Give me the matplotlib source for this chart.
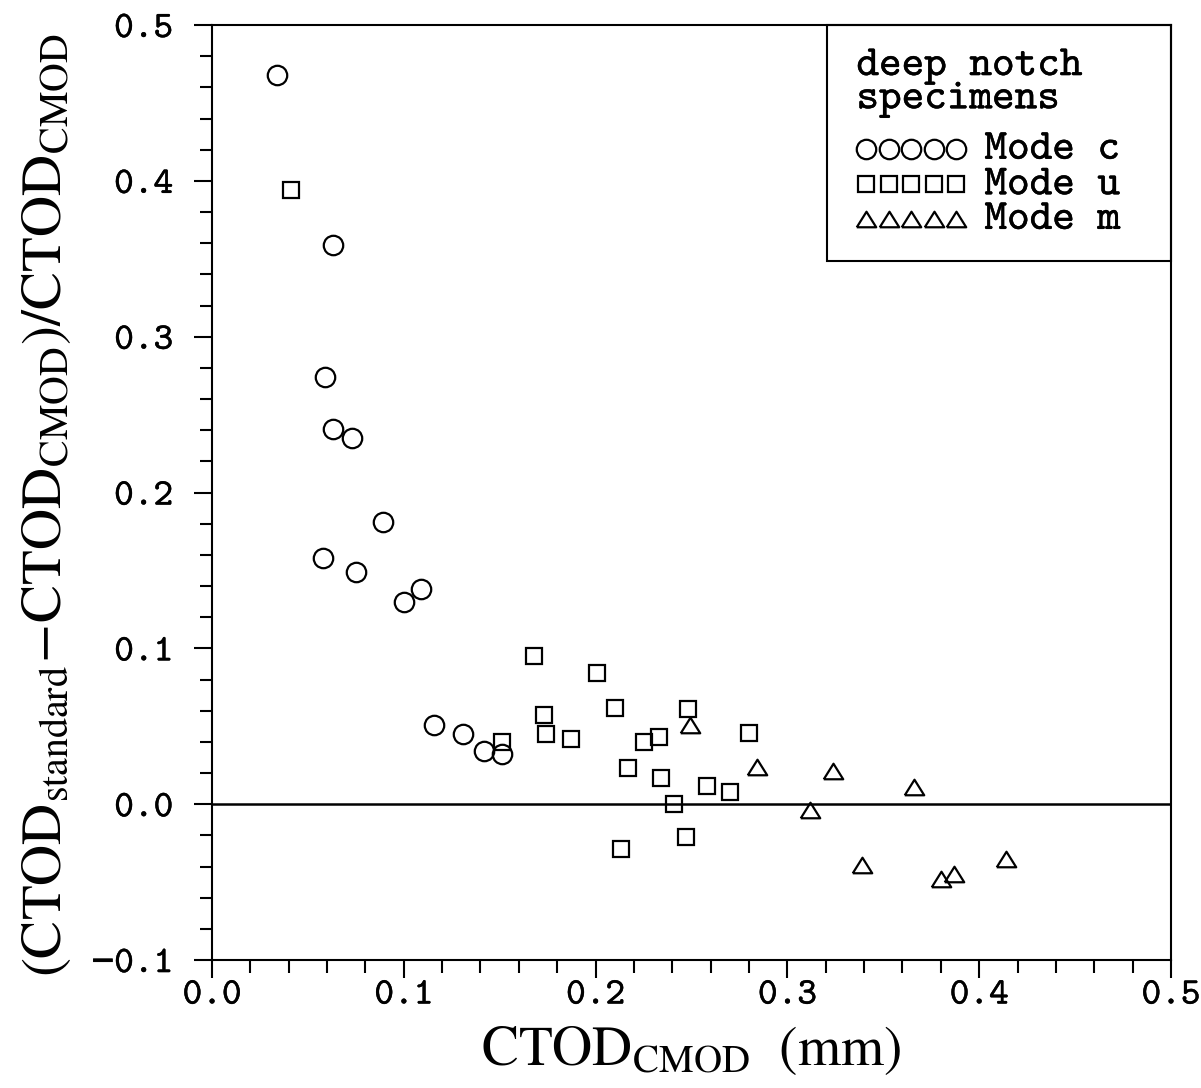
import matplotlib
matplotlib.use('Agg')
import matplotlib.pyplot as plt
import matplotlib.patheffects as pe
from matplotlib.ticker import MultipleLocator, FuncFormatter
from matplotlib.patches import Rectangle

plt.rcParams['font.family'] = ['cmtt10', 'DejaVu Sans Mono']
plt.rcParams['mathtext.fontset'] = 'stix'

# Mode c (circles)
c_x = [0.034, 0.063, 0.059, 0.063, 0.073, 0.089, 0.058, 0.075, 0.100, 0.109,
       0.116, 0.131, 0.142, 0.151]
c_y = [0.468, 0.359, 0.274, 0.241, 0.235, 0.181, 0.158, 0.149, 0.130, 0.138,
       0.051, 0.045, 0.034, 0.032]

# Mode u (squares)
u_x = [0.041, 0.151, 0.168, 0.173, 0.174, 0.187, 0.201, 0.210, 0.213, 0.217,
       0.225, 0.233, 0.234, 0.241, 0.247, 0.248, 0.258, 0.270, 0.280]
u_y = [0.394, 0.040, 0.095, 0.057, 0.045, 0.042, 0.084, 0.062, -0.029, 0.023,
       0.040, 0.043, 0.017, 0.000, -0.021, 0.061, 0.012, 0.008, 0.046]

# Mode m (triangles)
m_x = [0.249, 0.284, 0.324, 0.366, 0.312, 0.339, 0.380, 0.387, 0.414]
m_y = [0.051, 0.024, 0.021, 0.011, -0.004, -0.039, -0.048, -0.045, -0.035]

legend_labels = ['Mode c', 'Mode u', 'Mode m']

tri = [(-1, -0.8), (1, -0.8), (0, 0.8), (-1, -0.8)]
styles = [dict(marker='o', ms=14), dict(marker='s', ms=11.5), dict(marker=tri, ms=14)]
common = dict(ls='none', mfc='none', mec='black', mew=1.6, clip_on=False)
thick = [pe.withStroke(linewidth=0.3, foreground='black')]

fig = plt.figure(figsize=(12.01, 10.88), dpi=100)
ax = fig.add_axes([0.1765, 0.1176, 0.7985, 0.8594])

ax.axhline(0.0, color='black', lw=1.8)
for xs, ys, st in zip([c_x, u_x, m_x], [c_y, u_y, m_y], styles):
    ax.plot(xs, ys, **st, **common)

ax.set_xlim(0, 0.5)
ax.set_ylim(-0.1, 0.5)
for axis in (ax.xaxis, ax.yaxis):
    axis.set_major_locator(MultipleLocator(0.1))
    axis.set_minor_locator(MultipleLocator(0.02))


def fmt(v, pos):
    if abs(v) < 1e-9:
        v = 0.0
    return f'{v:.1f}'.replace('-', '\u2212')


ax.xaxis.set_major_formatter(FuncFormatter(fmt))
ax.yaxis.set_major_formatter(FuncFormatter(fmt))
ax.tick_params(which='both', direction='out', width=1.5, labelsize=27)
ax.tick_params(which='major', length=13)
ax.tick_params(which='minor', length=9)
ax.tick_params(axis='x', pad=1)
ax.tick_params(axis='y', pad=15)
for lbl in ax.get_xticklabels() + ax.get_yticklabels():
    lbl.set_path_effects(thick)
for sp in ax.spines.values():
    sp.set_linewidth(1.5)

ax.set_xlabel(r'$\mathrm{CTOD}_{\mathrm{CMOD}}\ \ (\mathrm{mm})$', fontsize=40)
ax.set_ylabel(r'$(\mathrm{CTOD}_{\mathrm{standard}}\!-\!\mathrm{CTOD}_{\mathrm{CMOD}})/\mathrm{CTOD}_{\mathrm{CMOD}}$',
              fontsize=41)
ax.xaxis.set_label_coords(0.5, -0.098)
ax.yaxis.set_label_coords(-0.172, 0.487)
ax.xaxis.label.set_va('center')
ax.yaxis.label.set_va('center')

# legend box
ax.add_patch(Rectangle((0.641, 0.7476), 0.359, 0.2524, transform=ax.transAxes,
                       fill=False, lw=1.5, color='black', clip_on=False))
ax.text(0.672, 0.9465, 'deep notch', transform=ax.transAxes, fontsize=31,
        va='baseline', path_effects=thick)
ax.text(0.672, 0.911, 'specimens', transform=ax.transAxes, fontsize=31,
        va='baseline', path_effects=thick)
mark_x = [0.6816, 0.7055, 0.7294, 0.7534, 0.7763]
for lab, st, my, ty in zip(legend_labels, styles, [0.867, 0.830, 0.7925], [0.857, 0.819, 0.782]):
    ax.plot(mark_x, [my] * 5, transform=ax.transAxes, **st, **common)
    ax.text(0.8055, ty, lab, transform=ax.transAxes, fontsize=31, va='baseline',
            path_effects=thick)

fig.savefig('out.png', dpi=100)
